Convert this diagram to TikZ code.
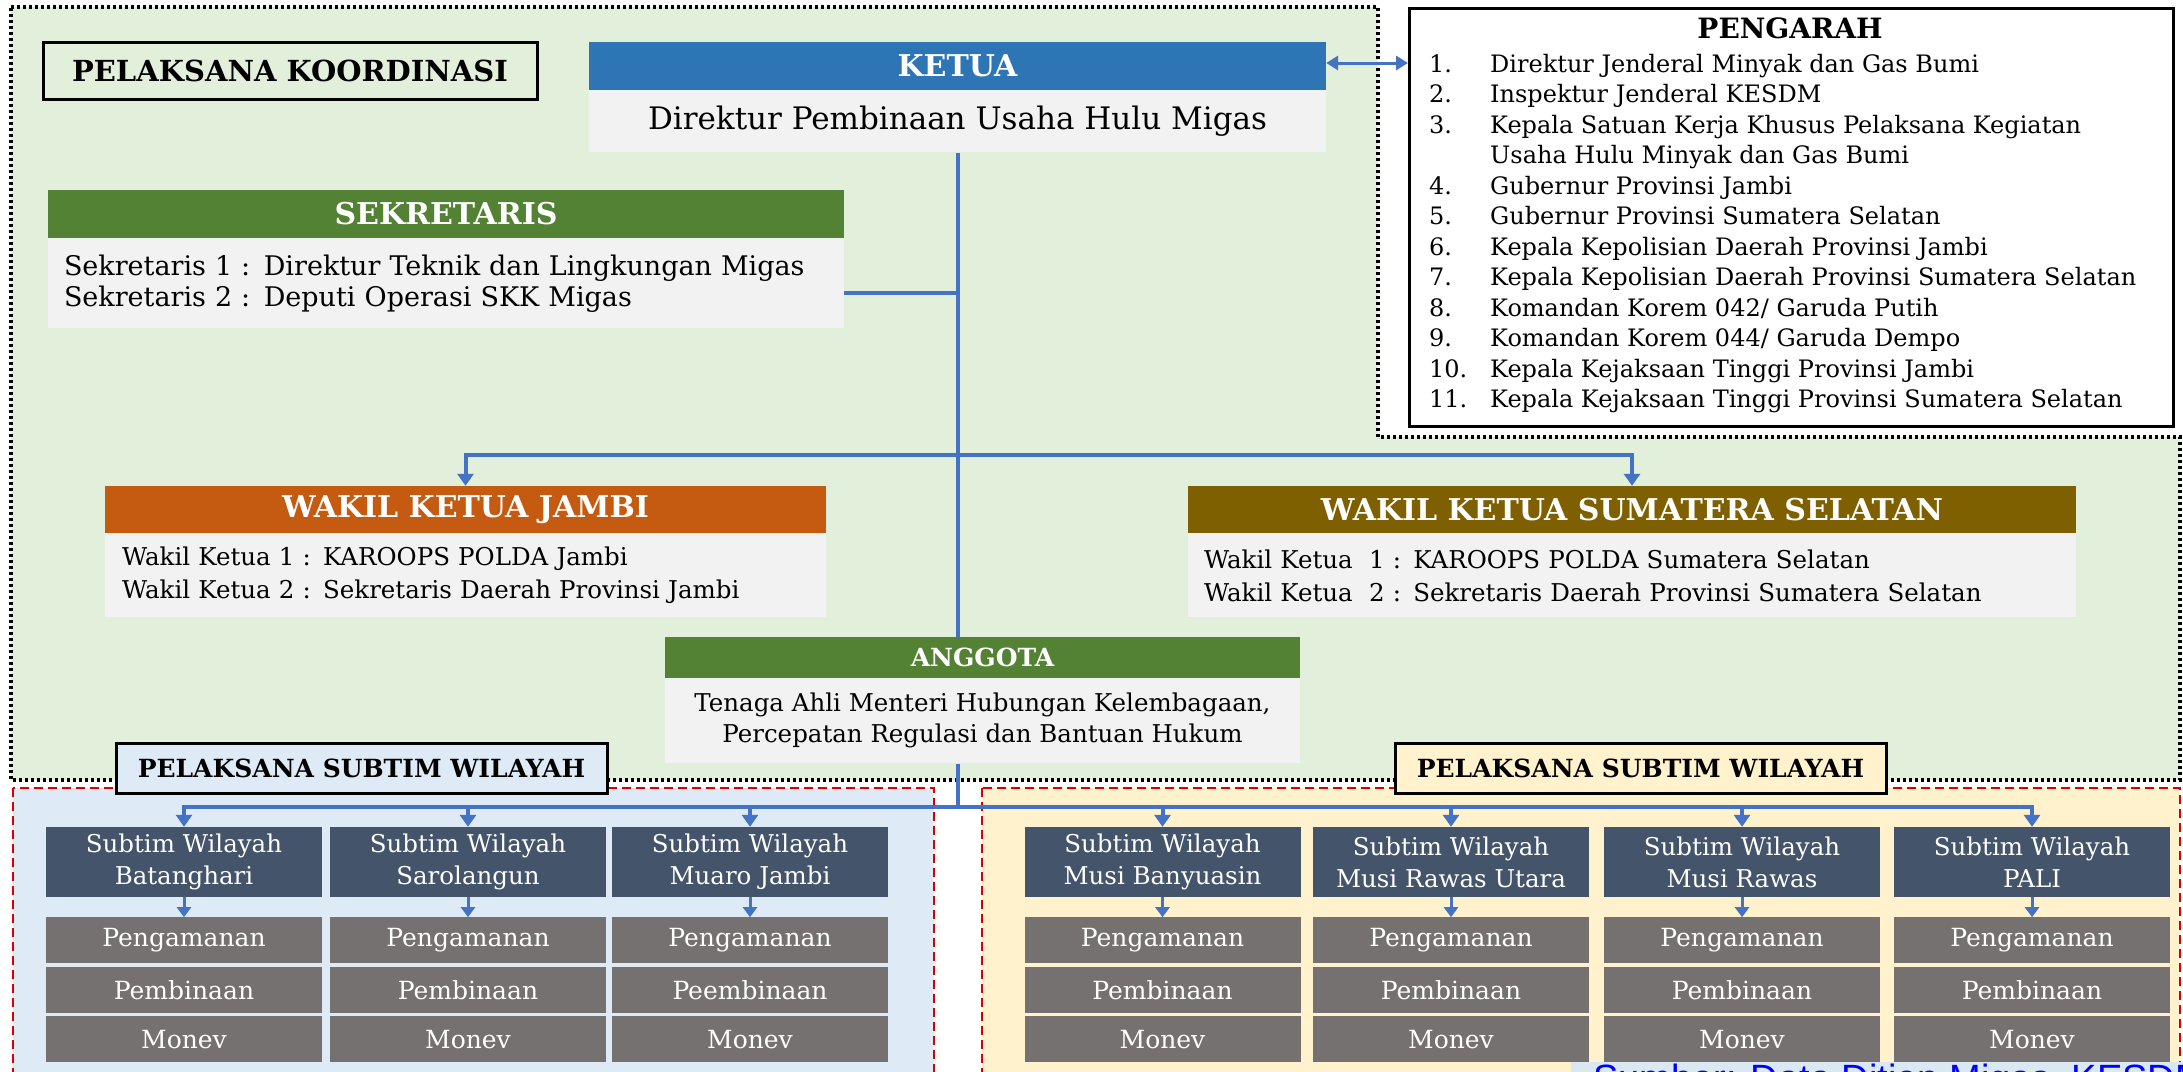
\documentclass[tikz,border=0pt]{standalone}
\usepackage{fontspec}
\setmainfont{DejaVu Serif}
\newfontfamily\headfont{DejaVu Serif}
\newfontfamily\capfont{Liberation Sans}
\usepackage{tikz}
\usetikzlibrary{positioning}
\usetikzlibrary{arrows.meta}

\definecolor{ketuablue}{HTML}{2E75B6}
\definecolor{sekgreen}{HTML}{548235}
\definecolor{jambiorange}{HTML}{C55A11}
\definecolor{sumselbrown}{HTML}{7F6000}
\definecolor{bodygray}{HTML}{F2F2F2}
\definecolor{bggreen}{HTML}{E2EFDA}
\definecolor{bgblue}{HTML}{DEEBF7}
\definecolor{bgcream}{HTML}{FFF2CC}
\definecolor{subtimslate}{HTML}{44546A}
\definecolor{taskgray}{HTML}{767171}
\definecolor{linkblue}{HTML}{4472C4}
\definecolor{capblue}{HTML}{DAE8F2}

\begin{document}
\begin{tikzpicture}[
        x=1pt, y=-1pt,
        headbox/.style={rectangle,fill=#1,text=white,minimum height=48,inner sep=0pt,font=\headfont\bfseries\fontsize{30}{34}\selectfont},
        bodybox/.style={rectangle,fill=bodygray,inner sep=0pt,font=\fontsize{27}{31}\selectfont},
        labelbox/.style={rectangle,draw=black,line width=3pt,minimum width=491,minimum height=50,font=\headfont\bfseries\fontsize{25}{30}\selectfont},
        subtim/.style={rectangle,fill=subtimslate,text=white,minimum width=276,minimum height=70,align=center,inner sep=0pt,font=\fontsize{24.5}{32}\selectfont},
        taskbox/.style={rectangle,fill=taskgray,text=white,minimum width=276,minimum height=46,inner sep=0pt,font=\fontsize{25}{30}\selectfont,below=3pt of #1},
        link/.style={draw=linkblue,line width=4pt},
        linkarrow/.style={link,-{Triangle[width=16pt,length=12pt]}},
        smallarrow/.style={draw=linkblue,line width=3pt,-{Triangle[width=14pt,length=10pt]}},
        linkboth/.style={draw=linkblue,line width=3pt,{Triangle[width=14pt,length=12pt]}-{Triangle[width=14pt,length=12pt]}},
        dotborder/.style={draw=black,line width=4pt,dash pattern=on 3pt off 3pt},
        redborder/.style={draw=red!85!black,line width=2pt,dash pattern=on 9pt off 5pt},
        ]
        \useasboundingbox (0,0) rectangle (2183,1071);
        \clip (0,0) rectangle (2183,1071);

        % wilayah latar
        \draw[redborder,fill=bgblue] (13,788) rectangle (934,1100);
        \draw[redborder,fill=bgcream] (982,788) rectangle (2180,1100);
        \fill[bggreen] (11,7) -- (1378,7) -- (1378,437) -- (2180,437) -- (2180,780) -- (11,780) -- cycle;
        \draw[dotborder] (11,7) -- (1378,7) -- (1378,437) -- (2180,437) -- (2180,780) -- (11,780) -- cycle;

        \node[labelbox, minimum width=494, minimum height=57, font=\headfont\bfseries\fontsize{29}{32}\selectfont](koord) at (290,70.5){PELAKSANA KOORDINASI};

        \node[headbox=ketuablue, minimum width=737](ketua_head) at (957.5,66){KETUA};
        \node[bodybox, minimum width=737, minimum height=62, anchor=north, font=\fontsize{31}{36}\selectfont](ketua_body) at (ketua_head.south){Direktur Pembinaan Usaha Hulu Migas};

        \node[headbox=sekgreen, minimum width=796](sek_head) at (446,214){SEKRETARIS};
        \node[bodybox, text width=764, inner xsep=16pt, minimum height=90, anchor=north, align=left](sek_body) at (sek_head.south){Sekretaris 1 : Direktur Teknik dan Lingkungan Migas\\Sekretaris 2 : Deputi Operasi SKK Migas};

        \node[headbox=jambiorange, minimum width=721, minimum height=47](jambi_head) at (465.5,509.5){WAKIL KETUA JAMBI};
        \node[bodybox, text width=687, inner xsep=17pt, minimum height=84, anchor=north, align=left, font=\fontsize{24.5}{33}\selectfont](jambi_body) at (jambi_head.south){Wakil Ketua 1 : KAROOPS POLDA Jambi\\Wakil Ketua 2 : Sekretaris Daerah Provinsi Jambi};

        \node[headbox=sumselbrown, minimum width=888, minimum height=47](sumsel_head) at (1632,509.5){WAKIL KETUA SUMATERA SELATAN};
        \node[bodybox, text width=856, inner xsep=16pt, minimum height=84, anchor=north, align=left, font=\fontsize{24.5}{33}\selectfont](sumsel_body) at (sumsel_head.south){Wakil Ketua~~1 : KAROOPS POLDA Sumatera Selatan\\Wakil Ketua~~2 : Sekretaris Daerah Provinsi Sumatera Selatan};

        \node[headbox=sekgreen, minimum width=635, minimum height=41, font=\headfont\bfseries\fontsize{25}{28}\selectfont](anggota_head) at (982.5,657.5){ANGGOTA};
        \node[bodybox, minimum width=635, minimum height=85, anchor=north, align=center, font=\fontsize{24.5}{31}\selectfont](anggota_body) at (anggota_head.south){Tenaga Ahli Menteri Hubungan Kelembagaan,\\Percepatan Regulasi dan Bantuan Hukum};

        % pengarah
        \node[rectangle, draw=black, line width=3pt, fill=white, minimum width=764, minimum height=418, anchor=north west](pengarah) at (1408,7){};
        \node[anchor=base, font=\headfont\bfseries\fontsize{28}{30}\selectfont](pengarah_title) at (1790,38){PENGARAH};
        \node[anchor=base west, inner sep=0pt, font=\fontsize{24}{30.5}\selectfont](pengarah_list) at (1429,72){%
            \begin{tabular}[t]{@{}p{61pt}@{}l@{}}
            1. & Direktur Jenderal Minyak dan Gas Bumi\\
            2. & Inspektur Jenderal KESDM\\
            3. & Kepala Satuan Kerja Khusus Pelaksana Kegiatan\\
               & Usaha Hulu Minyak dan Gas Bumi\\
            4. & Gubernur Provinsi Jambi\\
            5. & Gubernur Provinsi Sumatera Selatan\\
            6. & Kepala Kepolisian Daerah Provinsi Jambi\\
            7. & Kepala Kepolisian Daerah Provinsi Sumatera Selatan\\
            8. & Komandan Korem 042/ Garuda Putih\\
            9. & Komandan Korem 044/ Garuda Dempo\\
            10. & Kepala Kejaksaan Tinggi Provinsi Jambi\\
            11. & Kepala Kejaksaan Tinggi Provinsi Sumatera Selatan
            \end{tabular}};

        % subtim
        \node[labelbox, fill=bgblue](pst_left) at (361.5,768){PELAKSANA SUBTIM WILAYAH};
        \node[labelbox, fill=bgcream](pst_right) at (1640.5,768){PELAKSANA SUBTIM WILAYAH};

        \node[subtim](st_bat) at (184,862){Subtim Wilayah\\Batanghari};
        \node[subtim](st_sar) at (468,862){Subtim Wilayah\\Sarolangun};
        \node[subtim](st_mua) at (750,862){Subtim Wilayah\\Muaro Jambi};
        \node[subtim](st_mba) at (1162.5,862){Subtim Wilayah\\Musi Banyuasin};
        \node[subtim](st_mru) at (1451,862){Subtim Wilayah\\Musi Rawas Utara};
        \node[subtim](st_mra) at (1742,862){Subtim Wilayah\\Musi Rawas};
        \node[subtim](st_pal) at (2032,862){Subtim Wilayah\\PALI};

        \node[taskbox=st_bat, below=20pt of st_bat](pg_bat){Pengamanan};
        \node[taskbox=pg_bat](pb_bat){Pembinaan};
        \node[taskbox=pb_bat](mo_bat){Monev};
        \node[taskbox=st_sar, below=20pt of st_sar](pg_sar){Pengamanan};
        \node[taskbox=pg_sar](pb_sar){Pembinaan};
        \node[taskbox=pb_sar](mo_sar){Monev};
        \node[taskbox=st_mua, below=20pt of st_mua](pg_mua){Pengamanan};
        \node[taskbox=pg_mua](pb_mua){Peembinaan};
        \node[taskbox=pb_mua](mo_mua){Monev};
        \node[taskbox=st_mba, below=20pt of st_mba](pg_mba){Pengamanan};
        \node[taskbox=pg_mba](pb_mba){Pembinaan};
        \node[taskbox=pb_mba](mo_mba){Monev};
        \node[taskbox=st_mru, below=20pt of st_mru](pg_mru){Pengamanan};
        \node[taskbox=pg_mru](pb_mru){Pembinaan};
        \node[taskbox=pb_mru](mo_mru){Monev};
        \node[taskbox=st_mra, below=20pt of st_mra](pg_mra){Pengamanan};
        \node[taskbox=pg_mra](pb_mra){Pembinaan};
        \node[taskbox=pb_mra](mo_mra){Monev};
        \node[taskbox=st_pal, below=20pt of st_pal](pg_pal){Pengamanan};
        \node[taskbox=pg_pal](pb_pal){Pembinaan};
        \node[taskbox=pb_pal](mo_pal){Monev};

        \node[anchor=north west, fill=capblue, text=blue, inner xsep=22pt, inner ysep=2pt, font=\capfont\fontsize{38}{40}\selectfont](sumber) at (1571,1062){Sumber: Data Ditjen Migas, KESDM};

        % garis penghubung
        \coordinate (branch_top) at (957.5,455);
        \coordinate (branch_bot) at (957.5,807);
        \draw[link] (ketua_body.south) -- (ketua_body.south |- anggota_head.north);
        \draw[link] ([yshift=-10pt]sek_body.east) -- ([yshift=-10pt]sek_body.east -| ketua_body.south);
        \draw[linkarrow] (branch_top) -| (jambi_head.north);
        \draw[linkarrow] (branch_top) -| (sumsel_head.north);
        \draw[linkboth] ([yshift=3pt]ketua_head.east) -- ([yshift=3pt]ketua_head.east -| pengarah.west);
        \draw[link] (anggota_body.south -| branch_bot) -- (branch_bot);

        \draw[linkarrow] (branch_bot) -| (st_bat.north);
        \draw[linkarrow] (branch_bot) -| (st_sar.north);
        \draw[linkarrow] (branch_bot) -| (st_mua.north);
        \draw[linkarrow] (branch_bot) -| (st_mba.north);
        \draw[linkarrow] (branch_bot) -| (st_mru.north);
        \draw[linkarrow] (branch_bot) -| (st_mra.north);
        \draw[linkarrow] (branch_bot) -| (st_pal.north);

        \draw[smallarrow] (st_bat.south) -- (pg_bat.north);
        \draw[smallarrow] (st_sar.south) -- (pg_sar.north);
        \draw[smallarrow] (st_mua.south) -- (pg_mua.north);
        \draw[smallarrow] (st_mba.south) -- (pg_mba.north);
        \draw[smallarrow] (st_mru.south) -- (pg_mru.north);
        \draw[smallarrow] (st_mra.south) -- (pg_mra.north);
        \draw[smallarrow] (st_pal.south) -- (pg_pal.north);

        \end{tikzpicture}
\end{document}
